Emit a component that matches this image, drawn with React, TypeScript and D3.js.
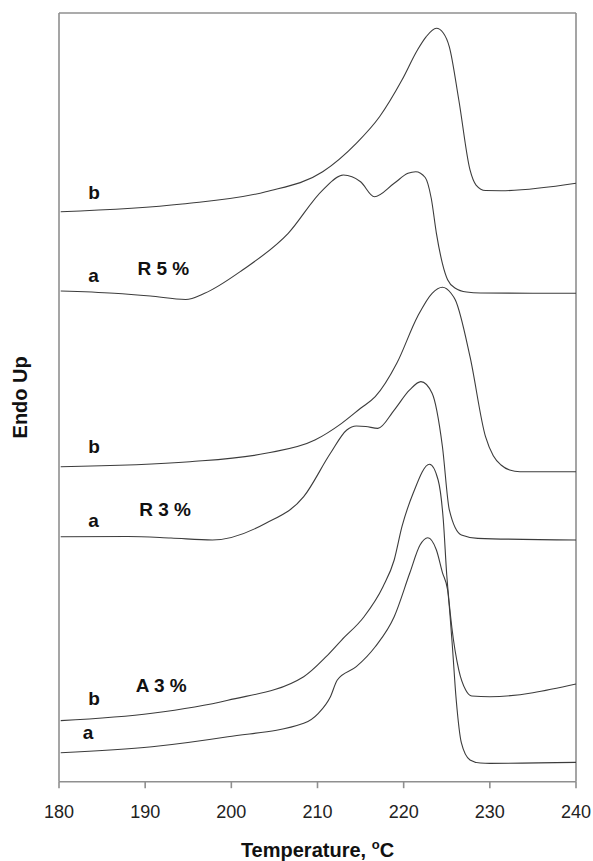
import React from "react";
import * as d3 from "d3";

// DSC heating scans, temperature in °C vs. heat flow (arbitrary units, stacked)
const r5bTemp = [180.2, 194.3, 204.0, 210.6, 214.5, 217.2, 219.8, 221.6, 222.6, 223.8, 224.6, 225.3, 226.4, 227.7, 228.4, 229.5, 231.3, 240];
const r5bFlow = [74.15, 75.15, 76.75, 79.35, 83.05, 86.51, 91.28, 95.19, 96.9, 98.01, 97.4, 95.6, 88.68, 79.58, 77.62, 76.9, 76.88, 77.85];

const r5aTemp = [180.2, 186.4, 190.6, 194.7, 196.9, 201.3, 206.6, 210.6, 213.0, 215.0, 216.6, 218.9, 220.5, 221.4, 222.5, 223.2, 223.8, 224.5, 225.1, 226.0, 227.3, 228.9, 240];
const r5aFlow = [63.83, 63.54, 63.18, 62.73, 63.54, 66.57, 71.34, 76.97, 78.92, 78.05, 76.1, 77.85, 79.14, 79.35, 78.6, 75.9, 71.34, 67.4, 65.3, 64.2, 63.7, 63.57, 63.54];

const r3bTemp = [180.2, 195.2, 204.0, 209.7, 212.8, 215.0, 216.7, 219.2, 221.6, 223.3, 224.5, 225.5, 226.0, 227.7, 229.5, 230.4, 231.3, 232.3, 233.5, 240];
const r3bFlow = [40.98, 41.63, 42.72, 44.45, 46.62, 48.58, 50.08, 54.43, 60.49, 63.54, 64.32, 63.54, 62.66, 55.29, 44.88, 42.4, 41.2, 40.55, 40.33, 40.33];

const r3aTemp = [180.2, 188.0, 193.0, 197.8, 204.0, 208.4, 211.5, 213.4, 214.5, 215.6, 217.0, 218.9, 220.7, 222.0, 223.3, 224.5, 225.3, 226.7, 228.6, 240];
const r3aFlow = [31.87, 31.9, 31.7, 31.44, 33.62, 37.08, 42.72, 45.75, 46.27, 46.21, 45.97, 48.35, 50.96, 52.04, 50.53, 43.58, 35.35, 32.09, 31.66, 31.44];

const a3bTemp = [180.2, 190.8, 199.6, 208.4, 211.0, 212.8, 215.4, 217.6, 218.9, 219.8, 221.1, 223.0, 224.0, 224.6, 225.0, 225.6, 226.4, 227.2, 227.9, 230.0, 240];
const a3bFlow = [7.94, 8.9, 10.6, 13.66, 16.26, 18.43, 21.46, 25.37, 28.84, 33.17, 37.52, 41.29, 39.25, 34.04, 26.89, 20.0, 14.53, 11.93, 11.15, 11.06, 12.71];

const a3aTemp = [180.2, 190.8, 199.6, 208.4, 210.1, 211.5, 212.3, 214.5, 216.7, 218.9, 220.7, 221.9, 222.8, 223.8, 224.5, 225.1, 225.6, 226.1, 226.7, 227.7, 228.9, 230.0, 240];
const a3aFlow = [3.77, 4.55, 5.85, 7.6, 8.9, 11.06, 13.23, 14.96, 17.56, 21.46, 27.11, 30.79, 31.74, 30.14, 27.2, 24.94, 18.43, 10.63, 5.04, 2.83, 2.43, 2.39, 2.52];

const seriesTemps = [r5bTemp, r5aTemp, r3bTemp, r3aTemp, a3bTemp, a3aTemp];
const seriesFlows = [r5bFlow, r5aFlow, r3bFlow, r3aFlow, a3bFlow, a3aFlow];

const xTicks = [180, 190, 200, 210, 220, 230, 240];

// curve tags and sample names, placed at [temperature, flow] anchors
const tagTexts = ["b", "a", "R 5 %", "b", "a", "R 3 %", "b", "a", "A 3 %"];
const tagTemps = [183.4, 183.4, 189.1, 183.4, 183.4, 189.3, 183.4, 182.75, 188.9];
const tagFlows = [75.8, 65.0, 65.9, 42.7, 33.1, 34.6, 10.0, 5.5, 11.7];

const W = 593;
const H = 861;
const margin = { left: 59, right: 17, top: 13, bottom: 79.3 };

export default function App() {
  const x = d3.scaleLinear().domain([180, 240]).range([margin.left, W - margin.right]);
  const y = d3.scaleLinear().domain([0, 100]).range([H - margin.bottom, margin.top]);

  const line = d3
    .line<[number, number]>()
    .x((d) => x(d[0]))
    .y((d) => y(d[1]))
    .curve(d3.curveMonotoneX);

  const x0 = x(180);
  const x1 = x(240);
  const y0 = y(0);
  const y1 = y(100);
  const font = "Arial, 'Liberation Sans', Helvetica, sans-serif";

  return (
    <svg
      width={W}
      height={H}
      style={{ position: "absolute", left: 0, top: 0, background: "#fff" }}
      fontFamily={font}
    >
      {/* frame */}
      <g stroke="#8f8f8f" strokeWidth={1.6} fill="none">
        <line x1={x0} y1={y1} x2={x1} y2={y1} />
        <line x1={x0} y1={y1} x2={x0} y2={y0} />
        <line x1={x1} y1={y1} x2={x1} y2={y0} />
        <line x1={x0} y1={y0} x2={x1} y2={y0} />
        {xTicks.map((t) => (
          <line key={t} x1={x(t)} x2={x(t)} y1={y0} y2={y0 + 6.5} />
        ))}
      </g>

      {/* tick labels */}
      <g fontSize={18} fill="#222" textAnchor="middle">
        {xTicks.map((t) => (
          <text key={t} x={x(t)} y={y0 + 36}>
            {t}
          </text>
        ))}
      </g>

      {/* axis titles */}
      <text
        x={(x0 + x1) / 2}
        y={857}
        fontSize={20}
        fontWeight="bold"
        textAnchor="middle"
        fill="#111"
      >
        Temperature,{" "}
        <tspan fontSize={13} dy={-8}>
          o
        </tspan>
        <tspan dy={8}>C</tspan>
      </text>
      <text
        transform={`translate(27,${(y0 + y1) / 2}) rotate(-90)`}
        fontSize={20}
        fontWeight="bold"
        textAnchor="middle"
        fill="#111"
      >
        Endo Up
      </text>

      {/* curves */}
      <g fill="none" stroke="#3c3c3c" strokeWidth={1.1}>
        {seriesTemps.map((temps, i) => {
          const pts = temps.map((t, j) => [t, seriesFlows[i][j]] as [number, number]);
          return <path key={i} d={line(pts) || ""} />;
        })}
      </g>

      {/* curve tags */}
      <g fontSize={19} fontWeight="bold" fill="#111">
        {tagTexts.map((s, i) => (
          <text key={i} x={x(tagTemps[i])} y={y(tagFlows[i])}>
            {s}
          </text>
        ))}
      </g>
    </svg>
  );
}
